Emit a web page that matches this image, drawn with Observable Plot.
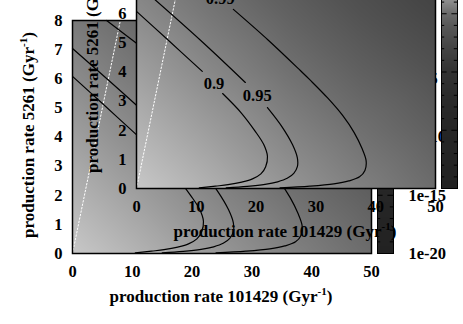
<!DOCTYPE html>
<html><head><meta charset="utf-8">
<script src="https://cdn.jsdelivr.net/npm/d3@7"></script>
<script src="https://cdn.jsdelivr.net/npm/@observablehq/plot@0.6"></script>
<style>
html,body{margin:0;padding:0;background:#fff;}
#wrap{position:relative;width:463px;height:324px;overflow:hidden;background:#fff;}
.layer{position:absolute;width:463px;height:324px;}
.layer svg{position:absolute;left:0;top:0;}
</style></head><body><div id="wrap"></div>
<script>
// ---- data ----
const gridX = [0, 12.5, 25, 37.5, 50];
const gridY = [0, 2, 4, 6, 8];
const grayRows = [
  [200, 176, 150, 128, 108],
  [180, 156, 132, 112, 95],
  [160, 136, 114, 96, 82],
  [140, 118, 98, 82, 70],
  [122, 102, 85, 72, 62]
];
const xTicks = [0, 10, 20, 30, 40, 50];
const yTicks = [0, 1, 2, 3, 4, 5, 6, 7, 8];
const contour90 = [[0,6.08],[5,5.15],[11.0,4.02],null,[14.4,3.26],[17.5,2.6],[19.8,1.98],[21.3,1.5],[21.9,1.1],[21.6,0.75],[20.8,0.5],[19.4,0.33],[17.6,0.22],[15.3,0.13],[13.2,0.08],[10.5,0.02]];
const contour95 = [[0,7.04],[10.7,5.09],[18.2,3.64],null,[21.9,2.78],[24.2,2.16],[26.1,1.5],[26.9,1.05],[26.9,0.75],[26.3,0.52],[25.2,0.35],[23.6,0.23],[21.5,0.14],[18.5,0.07],[15,0.02]];
const contour99 = [[5.7,8.0],[10.7,7.22],null,[16.2,6.15],[22,5.1],[27.4,4.05],[29.1,3.71],[32,3.1],[34.5,2.5],[36.4,1.92],[37.7,1.38],[38.4,0.95],[38.2,0.62],[37.3,0.4],[35.5,0.26],[33,0.16],[29,0.08],[24,0.02]];
const contourLabels = ["0.9", "0.95", "0.99"];
const labelX = [12.96, 20.2, 14.0];
const labelY = [3.61, 3.2, 6.51];
const diagX = [0, 8];
const diagY = [0, 8];
const cbExp = [-20, -15, -12.5, -10, -8, -6, -5, -4, -2, 0];
const cbGray = [34, 38, 42, 50, 68, 88, 106, 138, 190, 235];
const cbMajor = [-20, -15, -10, -5, 0];
const cbMinor = [-19,-18,-17,-16,-14,-13,-12,-11,-9,-8,-7,-6,-4,-3,-2,-1];
const xLabel = "production rate 101429 (Gyr";
const yLabel = "production rate 5261 (Gyr";
const supText = "-1";

// ---- layout ----
const W = 463, H = 324, ML = 72, MR = W - 371, MT = 20, MB = H - 253;
const font = "'Liberation Serif', 'Times New Roman', serif";
const grayScale = {type: "linear", domain: [0, 255], range: ["#000", "#fff"]};
const baseStyle = {fontFamily: font, fontSize: "16.5px", fontWeight: "bold", background: "transparent", color: "#000", overflow: "visible"};

function heatmap() {
  const cells = [];
  gridY.forEach((y, i) => gridX.forEach((x, j) => cells.push({x, y, g: grayRows[i][j]})));
  const lines = [];
  [contour90, contour95, contour99].forEach((c, k) => c.forEach(p => lines.push({x: p ? p[0] : NaN, y: p ? p[1] : NaN, k})));
  const labels = contourLabels.map((t, i) => ({t, x: labelX[i], y: labelY[i]}));
  const diag = diagX.map((x, i) => ({x, y: diagY[i]}));
  const svg = Plot.plot({
    width: W, height: H, marginLeft: ML, marginRight: MR, marginTop: MT, marginBottom: MB,
    style: baseStyle,
    x: {domain: [0, 50], ticks: xTicks, tickSize: 0, tickPadding: 12, label: null},
    y: {domain: [0, 8], ticks: yTicks, tickSize: 0, tickPadding: 10, label: null},
    color: grayScale,
    marks: [
      Plot.raster(cells, {x: "x", y: "y", fill: "g", x1: 0, y1: 0, x2: 50, y2: 8, interpolate: "barycentric"}),
      Plot.line(diag, {x: "x", y: "y", stroke: "white", strokeWidth: 1, strokeDasharray: "1.5,2"}),
      Plot.line(lines, {x: "x", y: "y", z: "k", stroke: "black", strokeWidth: 1.2, curve: "catmull-rom"}),
      Plot.text(labels, {x: "x", y: "y", text: "t", fill: "black", fontSize: 16.5, fontWeight: "bold"}),
      Plot.frame({stroke: "black", strokeWidth: 1.5})
    ]
  });
  const s = d3.select(svg);
  const tx = s.append("text").attr("x", 221).attr("y", 302).attr("text-anchor", "middle")
    .attr("font-size", 17).attr("font-weight", "bold").attr("font-family", font).attr("fill", "black");
  tx.append("tspan").text(xLabel);
  tx.append("tspan").attr("font-size", 11).attr("dy", -7).text(supText);
  tx.append("tspan").attr("dy", 7).text(")");
  const ty = s.append("text").attr("transform", "translate(34,135) rotate(-90)").attr("text-anchor", "middle")
    .attr("font-size", 17).attr("font-weight", "bold").attr("font-family", font).attr("fill", "black");
  ty.append("tspan").text(yLabel);
  ty.append("tspan").attr("font-size", 11).attr("dy", -7).text(supText);
  ty.append("tspan").attr("dy", 7).text(")");
  return svg;
}

function colorbar() {
  const pts = [];
  cbExp.forEach((e, i) => { pts.push({x: 0, y: 10 ** e, g: cbGray[i]}); pts.push({x: 1, y: 10 ** e, g: cbGray[i]}); });
  const minor = cbMinor.map(e => ({y: 10 ** e}));
  const major = cbMajor.map(e => ({y: 10 ** e}));
  return Plot.plot({
    width: W, height: H, marginLeft: 377, marginRight: W - 393, marginTop: MT, marginBottom: MB,
    style: baseStyle,
    x: {domain: [0, 1], axis: null},
    y: {type: "log", domain: [1e-20, 1], ticks: cbMajor.map(e => 10 ** e), axis: "right",
        tickFormat: d => { const e = Math.round(Math.log10(d)); return e === 0 ? "1" : "1e" + e; },
        tickSize: 0, tickPadding: 15, label: null},
    color: grayScale,
    marks: [
      Plot.raster(pts, {x: "x", y: "y", fill: "g", x1: 0, x2: 1, y1: 1e-20, y2: 1, interpolate: "barycentric"}),
      Plot.ruleY(minor, {y: "y", x1: 0, x2: 0.2, stroke: "black", strokeWidth: 1}),
      Plot.ruleY(minor, {y: "y", x1: 0.8, x2: 1, stroke: "black", strokeWidth: 1}),
      Plot.ruleY(major, {y: "y", x1: 0, x2: 0.35, stroke: "black", strokeWidth: 1}),
      Plot.ruleY(major, {y: "y", x1: 0.65, x2: 1, stroke: "black", strokeWidth: 1}),
      Plot.frame({stroke: "black", strokeWidth: 1})
    ]
  });
}

function layer(left, top) {
  const div = document.createElement("div");
  div.className = "layer";
  div.style.left = left + "px";
  div.style.top = top + "px";
  div.appendChild(heatmap());
  div.appendChild(colorbar());
  return div;
}

const wrap = document.getElementById("wrap");
wrap.appendChild(layer(0, 0));
wrap.appendChild(layer(64, -65));
</script></body></html>
